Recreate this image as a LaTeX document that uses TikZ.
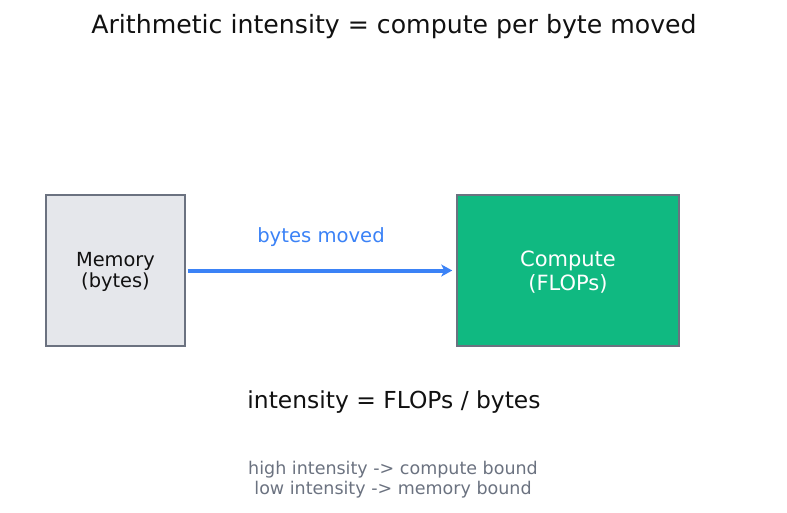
\documentclass[tikz,border=0pt]{standalone}
\usepackage{fontspec}
\setmainfont{DejaVu Sans}
\usetikzlibrary{arrows.meta,calc}
\definecolor{memfill}{HTML}{E5E7EB}
\definecolor{boxline}{HTML}{6B7280}
\definecolor{compfill}{HTML}{10B981}
\definecolor{arrblue}{HTML}{3B82F6}
\definecolor{graytext}{HTML}{6B7280}
\definecolor{darktext}{HTML}{111111}
\begin{document}
\begin{tikzpicture}[x=1pt,y=-1pt,
  boxstyle/.style={draw=boxline,line width=1.5pt,inner sep=0pt},
  lbl/.style={inner sep=0pt,align=center}]
\useasboundingbox (0,0) rectangle (787,512);
\node[lbl,text=darktext,font=\fontsize{25.2}{30}\selectfont] (title) at (394,27) {Arithmetic intensity = compute per byte moved};
\node[boxstyle,fill=memfill,minimum width=139pt,minimum height=151pt] (mem) at (115.5,270.5) {};
\node[lbl,text=darktext,font=\fontsize{19.4}{21}\selectfont] (memt) at ($(mem.center)+(0,1.5)$) {Memory\\(bytes)};
\node[boxstyle,fill=compfill,minimum width=222pt,minimum height=151pt] (comp) at (568,270.5) {};
\node[lbl,text=white,font=\fontsize{21}{24}\selectfont] (compt) at ($(comp.center)+(0,1.5)$) {Compute\\(FLOPs)};
\draw[arrblue,line width=4pt,-{Stealth[length=11pt,width=12pt,inset=3pt]}] ($(mem.east)+(2,0)$) -- ($(comp.west)+(-4,0)$);
\node[lbl,text=arrblue,font=\fontsize{19.6}{21}\selectfont] (bm) at (321,237) {bytes moved};
\node[lbl,text=darktext,font=\fontsize{23.4}{26}\selectfont] (form) at (394,402) {intensity = FLOPs / bytes};
\node[lbl,text=graytext,font=\fontsize{17.5}{20}\selectfont] (note) at (393,480) {high intensity -> compute bound\\low intensity -> memory bound};
\end{tikzpicture}
\end{document}
